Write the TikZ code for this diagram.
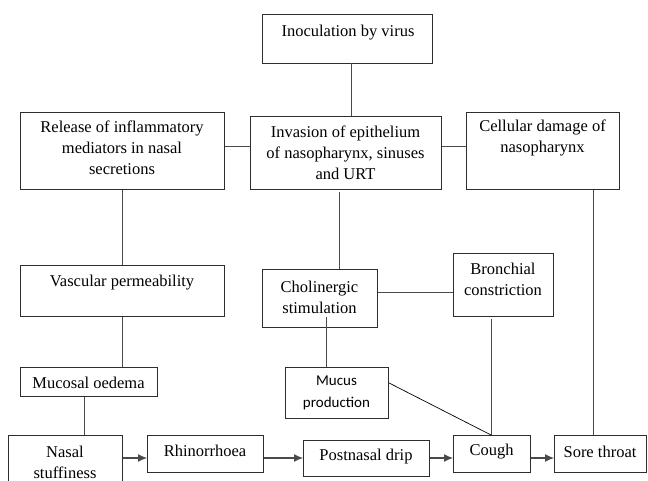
\documentclass[tikz,border=0pt]{standalone}
\usepackage{fontspec}
\setmainfont{Liberation Serif}
\newfontfamily\serifont{Liberation Serif}
\newfontfamily\mucusfont{Carlito}
\usetikzlibrary{arrows.meta}
\definecolor{boxc}{HTML}{2E2E2E}
\definecolor{linec}{HTML}{4A4A4A}
\begin{document}
\begin{tikzpicture}[x=1pt,y=-1pt,
  boxstyle/.style={draw=boxc, line width=1.1pt, inner sep=0pt, anchor=north west},
  txtserif/.style={font=\serifont\fontsize{16.5}{21}\selectfont, align=center, inner sep=0pt, text=black},
  txtsans/.style={font=\mucusfont\fontsize{15}{22}\selectfont, align=center, inner sep=0pt, text=black},
  conn/.style={draw=linec, line width=1pt},
  thinconn/.style={draw=black, line width=0.7pt},
  arrconn/.style={draw=linec, line width=1.1pt, -{Latex[length=9pt,width=8pt]}}]
\useasboundingbox (0,0) rectangle (648,481);
\clip (0,0) rectangle (648,481);
\fill[white] (0,0) rectangle (648,481);
% boxes
\node[boxstyle, minimum width=170pt, minimum height=49pt] (inoc) at (262,14) {};
\node[boxstyle, minimum width=191pt, minimum height=73pt] (inv) at (250,116) {};
\node[boxstyle, minimum width=204pt, minimum height=77pt] (rel) at (20,112) {};
\node[boxstyle, minimum width=153pt, minimum height=77pt] (cel) at (466,112) {};
\node[boxstyle, minimum width=204pt, minimum height=51pt] (vas) at (20,265) {};
\node[boxstyle, minimum width=115pt, minimum height=58pt] (chol) at (262,269) {};
\node[boxstyle, minimum width=100pt, minimum height=63pt] (bron) at (453,253) {};
\node[boxstyle, minimum width=137pt, minimum height=29pt] (mucosal) at (20,367) {};
\node[boxstyle, minimum width=103pt, minimum height=51pt] (mucus) at (285,367) {};
\node[boxstyle, minimum width=114pt, minimum height=60pt] (nasal) at (8,435) {};
\node[boxstyle, minimum width=116pt, minimum height=37pt] (rhino) at (147,435) {};
\node[boxstyle, minimum width=126pt, minimum height=36pt] (post) at (303,440) {};
\node[boxstyle, minimum width=77pt, minimum height=37pt] (cough) at (453,435) {};
\node[boxstyle, minimum width=92pt, minimum height=37pt] (sore) at (554,435) {};
% texts
\node[txtserif] (t-inoc) at (348,33) {Inoculation by virus};
\node[txtserif] (t-inv) at (345.5,153) {Invasion of epithelium\\of nasopharynx, sinuses\\and URT};
\node[txtserif] (t-rel) at (122,148) {Release of inflammatory\\mediators in nasal\\secretions};
\node[txtserif] (t-cel) at (542.5,138) {Cellular damage of\\nasopharynx};
\node[txtserif] (t-vas) at (122,283) {Vascular permeability};
\node[txtserif] (t-chol) at (319.5,297) {Cholinergic\\stimulation};
\node[txtserif] (t-bron) at (503,279) {Bronchial\\constriction};
\node[txtserif] (t-mucosal) at (88.5,383) {Mucosal oedema};
\node[txtsans] (t-mucus) at (336.5,393) {Mucus\\production};
\node[txtserif] (t-nasal) at (65,462) {Nasal\\stuffiness};
\node[txtserif] (t-rhino) at (205,451) {Rhinorrhoea};
\node[txtserif] (t-post) at (366,457) {Postnasal drip};
\node[txtserif] (t-cough) at (491.5,452) {Cough};
\node[txtserif] (t-sore) at (600,452) {Sore throat};
% connectors
\coordinate (yA) at (0,147);
\coordinate (inocS) at (351,63);
\draw[conn] (inocS) -- (inv.north -| inocS);
\draw[conn] (rel.east |- yA) -- (inv.west |- yA);
\draw[conn] (inv.east |- yA) -- (cel.west |- yA);
\draw[conn] (rel.south) -- (vas.north);
\draw[conn] (vas.south) -- (vas.south |- mucosal.north);
\coordinate (xM) at (84,0);
\draw[conn] (mucosal.south -| xM) -- (nasal.north -| xM);
\coordinate (invS) at (339,192);
\draw[conn] (invS) -- (chol.north -| invS);
\coordinate (yC) at (0,292);
\draw[conn] (chol.east |- yC) -- (bron.west |- yC);
\coordinate (cholS) at (326,317);
\draw[conn] (cholS) -- (mucus.north -| cholS);
\coordinate (bronS) at (491,319);
\draw[conn] (bronS) -- (cough.north -| bronS);
\coordinate (xS) at (593,0);
\draw[conn] (cel.south -| xS) -- (sore.north -| xS);
\coordinate (yD) at (0,383);
\draw[thinconn] (mucus.east |- yD) -- (cough.north -| bronS);
\coordinate (yR) at (0,458);
\draw[arrconn] (nasal.east |- yR) -- (rhino.west |- yR);
\draw[arrconn] (rhino.east |- yR) -- (post.west |- yR);
\draw[arrconn] (post.east |- yR) -- (cough.west |- yR);
\draw[arrconn] (cough.east |- yR) -- (sore.west |- yR);
\end{tikzpicture}
\end{document}
